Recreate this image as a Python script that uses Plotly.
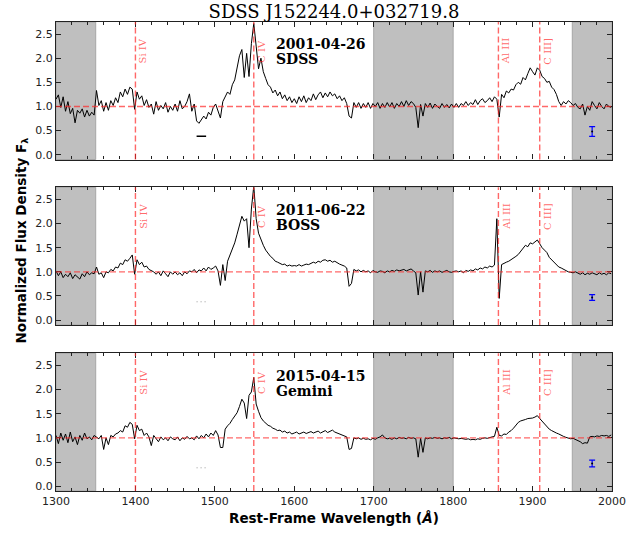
import plotly.graph_objects as go

# ---------------- data ----------------
wave = list(range(1300, 2000, 3))  # rest-frame wavelength grid (Angstrom)

flux_sdss = [
    1.15, 1.24, 0.98, 1.20, 0.90, 1.10, 0.85, 0.96, 0.66, 0.92,
    0.86, 0.95, 0.78, 0.92, 0.80, 0.88, 0.82, 1.33, 1.02, 1.12,
    0.90, 1.08, 0.92, 1.12, 1.02, 1.18, 1.08, 1.30, 1.20, 1.36,
    1.25, 1.40, 1.36, 0.94, 1.30, 1.15, 1.22, 1.02, 1.14, 0.98,
    1.05, 0.84, 1.10, 0.92, 1.02, 0.95, 1.08, 0.88, 1.00, 0.92,
    1.05, 0.90, 1.12, 0.95, 1.00, 1.10, 1.26, 0.90, 1.05, 0.70,
    0.65, 0.72, 0.80, 0.74, 0.88, 0.82, 0.98, 1.05, 0.92, 0.76,
    1.10, 1.20, 1.30, 1.25, 1.45, 1.55, 1.78, 2.05, 2.18, 1.60,
    2.10, 1.62, 2.30, 2.72, 2.25, 1.78, 2.00, 1.72, 1.58, 1.45,
    1.40, 1.28, 1.34, 1.22, 1.30, 1.16, 1.24, 1.12, 1.20, 1.08,
    1.16, 1.06, 1.20, 1.10, 1.22, 1.08, 1.18, 1.12, 1.26, 1.14,
    1.24, 1.30, 1.18, 1.28, 1.20, 1.30, 1.22, 1.26, 1.16, 1.22,
    1.12, 1.18, 1.06, 0.80, 0.76, 1.08, 0.98, 1.08, 0.96, 1.06,
    0.98, 1.08, 0.96, 1.06, 1.00, 1.08, 0.96, 1.06, 0.98, 1.08,
    0.99, 1.08, 0.96, 1.06, 1.00, 1.10, 1.00, 1.12, 1.02, 1.10,
    1.06, 0.98, 0.56, 1.04, 0.80, 1.06, 0.98, 1.07, 0.96, 1.05,
    1.00, 0.96, 1.06, 0.98, 1.04, 0.97, 1.05, 0.98, 1.06, 0.98,
    1.06, 1.02, 1.10, 1.02, 1.08, 1.04, 1.14, 1.04, 1.12, 1.16,
    1.08, 1.12, 1.18, 1.10, 1.20, 1.15, 0.78, 1.25, 1.18, 1.32,
    1.28, 1.36, 1.34, 1.45, 1.50, 1.46, 1.60, 1.55, 1.68, 1.80,
    1.72, 1.65, 1.80, 1.75, 1.62, 1.58, 1.50, 1.52, 1.40, 1.35,
    1.25, 1.10, 1.02, 1.10, 1.05, 1.12, 1.08, 1.02, 1.06, 0.98,
    0.95, 1.05, 0.82, 1.00, 0.92, 1.10, 1.02, 0.95, 1.08, 1.00,
    0.95, 1.05, 1.00, 0.98,
]

flux_boss = [
    1.02, 0.92, 1.00, 0.88, 0.95, 0.90, 0.98, 0.86, 0.94, 0.90,
    0.85, 0.96, 0.90, 1.00, 0.94, 0.98, 0.96, 1.10, 0.95, 0.98,
    0.88, 1.00, 0.98, 1.05, 1.02, 1.10, 1.08, 1.18, 1.15, 1.25,
    1.22, 1.28, 1.35, 0.95, 1.25, 1.15, 1.20, 1.10, 1.12, 1.05,
    1.02, 1.00, 0.95, 1.00, 0.92, 1.02, 0.96, 0.90, 1.00, 0.95,
    1.00, 0.94, 0.98, 0.92, 1.00, 0.96, 1.02, 1.00, 1.05, 0.98,
    1.04, 1.02, 1.08, 1.02, 1.10, 1.05, 1.08, 1.12, 1.02, 0.72,
    1.15, 0.82, 1.22, 1.35, 1.50, 1.60, 1.78, 1.95, 2.15, 2.05,
    2.10, 1.50, 2.30, 2.78, 2.10, 1.80, 1.65, 1.55, 1.45, 1.38,
    1.32, 1.28, 1.22, 1.20, 1.18, 1.15, 1.16, 1.12, 1.14, 1.12,
    1.13, 1.12, 1.15, 1.12, 1.14, 1.16, 1.15, 1.18, 1.20, 1.18,
    1.22, 1.20, 1.24, 1.25, 1.22, 1.24, 1.20, 1.22, 1.18, 1.16,
    1.14, 1.12, 1.08, 0.70, 0.76, 1.05, 1.02, 1.04, 1.00, 1.03,
    1.00, 1.02, 0.98, 1.03, 1.00, 0.99, 1.02, 1.01, 0.98, 1.02,
    1.00, 1.03, 1.01, 1.04, 1.02, 1.03, 1.05, 1.02, 1.04, 1.06,
    1.02, 0.98, 0.52, 1.00, 0.58, 1.02, 1.00, 1.03, 0.99, 1.02,
    1.00, 1.02, 0.99, 1.01, 1.03, 1.00, 0.99, 1.01, 1.02, 1.00,
    1.02, 0.98, 1.03, 1.01, 1.04, 1.02, 1.06, 1.04, 1.08, 1.06,
    1.10, 1.08, 1.12, 1.10, 1.14, 2.10, 0.45, 1.15, 1.18, 1.20,
    1.22, 1.25, 1.28, 1.32, 1.36, 1.42, 1.48, 1.55, 1.52, 1.60,
    1.58, 1.62, 1.66, 1.58, 1.50, 1.45, 1.40, 1.30, 1.25, 1.20,
    1.15, 1.10, 1.08, 1.05, 1.03, 1.00, 0.99, 0.98, 1.00, 0.97,
    0.95, 0.98, 0.94, 0.97, 0.95, 0.98, 0.96, 0.94, 0.98, 0.95,
    0.97, 0.94, 0.98, 0.96,
]

flux_gemini = [
    1.05, 0.88, 1.10, 0.95, 1.08, 0.90, 1.12, 0.92, 1.02, 0.86,
    1.05, 0.95, 1.10, 0.98, 1.02, 0.96, 1.05, 1.02, 0.98, 1.05,
    0.76, 1.00, 0.86, 1.05, 1.02, 1.08, 1.10, 1.15, 1.12, 1.25,
    1.22, 1.32, 1.28, 0.98, 1.26, 1.15, 1.18, 1.05, 1.10, 1.02,
    0.84, 1.05, 0.98, 0.92, 1.02, 0.96, 1.00, 0.94, 1.02, 0.98,
    0.96, 1.02, 0.94, 1.00, 0.97, 1.03, 0.98, 1.00, 0.96, 1.04,
    0.98, 1.05, 1.00, 1.08, 1.02, 1.10, 1.05, 1.15, 1.06, 0.80,
    0.80, 1.18, 1.25, 1.30, 1.38, 1.45, 1.52, 1.65, 1.80, 1.72,
    1.40, 1.88, 1.95, 2.25, 1.70, 1.55, 1.42, 1.35, 1.30, 1.26,
    1.24, 1.20, 1.18, 1.15, 1.16, 1.12, 1.14, 1.10, 1.12, 1.08,
    1.10, 1.12, 1.08, 1.10, 1.12, 1.09, 1.11, 1.13, 1.10, 1.12,
    1.14, 1.10, 1.12, 1.15, 1.11, 1.13, 1.16, 1.12, 1.10, 1.08,
    1.06, 1.04, 1.02, 0.76, 0.78, 1.00, 0.98, 1.00, 0.97, 0.99,
    0.97, 0.98, 0.96, 0.99, 0.97, 1.00, 1.02, 1.06, 1.00, 0.98,
    0.99, 0.97, 1.00, 0.98, 1.01, 0.99, 1.00, 0.98, 1.01, 0.99,
    1.00, 0.98, 0.60, 0.99, 0.70, 1.00, 0.98, 1.00, 0.99, 1.01,
    0.99, 1.00, 0.98, 1.00, 0.99, 1.01, 0.98, 1.00, 0.99, 0.98,
    0.99, 0.98, 0.97, 0.98, 0.96, 0.97, 0.96, 0.98, 0.97, 0.99,
    1.00, 0.99, 1.01, 1.02, 1.03, 1.22, 1.05, 1.04, 1.08, 1.07,
    1.12, 1.15, 1.20, 1.26, 1.32, 1.35, 1.36, 1.38, 1.40, 1.40,
    1.41, 1.43, 1.46, 1.40, 1.34, 1.28, 1.22, 1.18, 1.15, 1.12,
    1.10, 1.08, 1.05, 1.03, 1.01, 0.99, 0.98, 0.99, 0.97, 0.95,
    0.92, 0.88, 0.90, 0.89, 1.02, 1.03, 1.02, 1.04, 1.03, 1.05,
    1.04, 1.05, 1.03, 1.06,
]

epoch_dates = ["2001-04-26", "2011-06-22", "2015-04-15"]
epoch_surveys = ["SDSS", "BOSS", "Gemini"]
spectra = [flux_sdss, flux_boss, flux_gemini]

line_names = ["Si IV", "C IV", "Al III", "C III]"]
line_waves = [1400, 1549, 1857, 1909]

masked_regions = [(1300, 1350), (1700, 1800), (1950, 2000)]

err_wave = 1975
err_center = [0.48, 0.47, 0.47]
err_half = [0.10, 0.06, 0.07]

seg_waves = [1477, 1489]
seg_level = 0.38

# ---------------- styling ----------------
RED = "rgba(255,40,40,0.7)"
AXC = "#222222"
domains = [[0.7068, 1.0], [0.354, 0.6475], [0.0, 0.2936]]

fig = go.Figure()

for i, flux in enumerate(spectra):
    sfx = "" if i == 0 else str(i + 1)
    xa, ya = "x" + sfx, "y" + sfx

    fig.add_trace(go.Scatter(x=wave, y=flux, mode="lines",
                             line=dict(color="black", width=1),
                             xaxis=xa, yaxis=ya, showlegend=False,
                             hoverinfo="skip"))
    if i == 0:
        segline = dict(color="black", width=1.5)
    else:
        segline = dict(color="#999999", width=1, dash="1px,3px")
    fig.add_trace(go.Scatter(x=seg_waves, y=[seg_level, seg_level], mode="lines",
                             line=segline, xaxis=xa, yaxis=ya, showlegend=False))
    fig.add_trace(go.Scatter(x=[err_wave], y=[err_center[i]], mode="markers",
                             marker=dict(color="black", size=2),
                             error_y=dict(type="data", array=[err_half[i]],
                                          color="blue", thickness=1.2, width=3),
                             xaxis=xa, yaxis=ya, showlegend=False))

    for (a, b) in masked_regions:
        fig.add_shape(type="rect", xref=xa, yref=ya + " domain",
                      x0=a, x1=b, y0=0, y1=1, layer="below",
                      fillcolor="#bfbfbf", line=dict(color="#a6a6a6", width=1))
    fig.add_shape(type="line", xref=xa + " domain", yref=ya,
                  x0=0, x1=1, y0=1.0, y1=1.0, layer="above",
                  line=dict(color=RED, width=1.4, dash="6px,3px"))
    for nm, lw in zip(line_names, line_waves):
        fig.add_shape(type="line", xref=xa, yref=ya + " domain",
                      x0=lw, x1=lw, y0=0, y1=1, layer="above",
                      line=dict(color=RED, width=1.4, dash="6px,3px"))
        fig.add_annotation(x=lw, y=2.15, xref=xa, yref=ya, text=nm,
                           textangle=-90, showarrow=False, xshift=8,
                           font=dict(family="DejaVu Serif", size=10, color=RED))
    fig.add_annotation(x=1575, y=2.29, xref=xa, yref=ya, text="<b>%s</b>" % epoch_dates[i],
                       showarrow=False, xanchor="left", yanchor="middle",
                       font=dict(family="DejaVu Serif", size=14, color="black"))
    fig.add_annotation(x=1575, y=1.98, xref=xa, yref=ya, text="<b>%s</b>" % epoch_surveys[i],
                       showarrow=False, xanchor="left", yanchor="middle",
                       font=dict(family="DejaVu Serif", size=14, color="black"))

axis_common = dict(showline=True, linecolor=AXC, linewidth=1.2, mirror="allticks",
                   ticks="inside", ticklen=5, tickwidth=1, tickcolor=AXC,
                   showgrid=False, zeroline=False,
                   tickfont=dict(family="DejaVu Sans", size=11, color=AXC))

layout = dict(
    width=638, height=534,
    margin=dict(l=56, r=26, t=22, b=43),
    plot_bgcolor="white", paper_bgcolor="white",
    showlegend=False,
    title=dict(text="SDSS J152244.0+032719.8", x=0.5, xref="paper", xanchor="center",
               y=1 - 12 / 534, yref="container", yanchor="middle",
               font=dict(family="DejaVu Serif", size=18, color="black")),
)
for i in range(3):
    sfx = "" if i == 0 else str(i + 1)
    layout["xaxis" + sfx] = dict(axis_common, domain=[0, 1], range=[1300, 2000],
                                 anchor="y" + sfx, dtick=100, tick0=1300,
                                 showticklabels=(i == 2),
                                 minor=dict(dtick=20, ticks="inside", ticklen=3,
                                            tickcolor=AXC, showgrid=False))
    layout["yaxis" + sfx] = dict(axis_common, domain=domains[i], range=[-0.1, 2.75],
                                 anchor="x" + sfx, dtick=0.5, tick0=0, tickformat=".1f")
fig.update_layout(**layout)

fig.add_annotation(text="<b>Normalized Flux Density F<sub>λ</sub></b>", xref="paper", yref="paper",
                   x=-0.062, y=0.533, textangle=-90, showarrow=False,
                   xanchor="center", yanchor="middle",
                   font=dict(family="DejaVu Sans", size=13.5, color="black"))
fig.add_annotation(text="<b>Rest-Frame Wavelength (<i>Å</i>)</b>", xref="paper", yref="paper",
                   x=0.5, y=-0.058, showarrow=False, xanchor="center", yanchor="middle",
                   font=dict(family="DejaVu Sans", size=13.5, color="black"))

# remove the default 8px page margin so the figure fills the window exactly
fig.write_html("out.html", config={"displayModeBar": False},
               post_script="document.body.style.margin='0';")
